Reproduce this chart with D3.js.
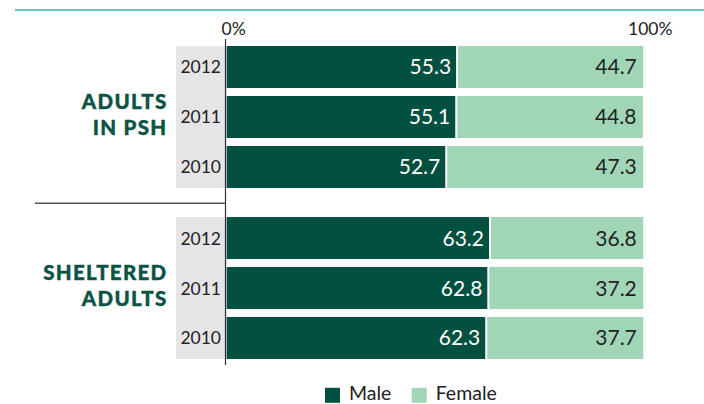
<!DOCTYPE html>
<html>
<head>
<meta charset="utf-8">
<script src="https://cdn.jsdelivr.net/npm/d3@7"></script>
<style>
  html, body { margin: 0; padding: 0; background: #fff; }
  svg { display: block; }
  text { font-family: Lato, "Open Sans", sans-serif; }
</style>
</head>
<body>
<svg id="chart" width="704" height="404"></svg>
<script>
// Gender split of adults, by population group and year (percent)
const groups = ["ADULTS|IN PSH", "SHELTERED|ADULTS"];
const years = ["2012", "2011", "2010"];
const maleValues = [
  [55.3, 55.1, 52.7],
  [63.2, 62.8, 62.3]
];
const femaleValues = [
  [44.7, 44.8, 47.3],
  [36.8, 37.2, 37.7]
];
const tickValues = [0, 100];
const tickLabels = ["0%", "100%"];
const seriesNames = ["Male", "Female"];

const colors = { male: "#02503f", female: "#a0d6b6", band: "#e5e5e7", title: "#0b5345", rule: "#6cc5b5" };

const svg = d3.select("#chart");

const x = d3.scaleLinear().domain([0, 100]).range([226.7, 643.3]);
const yGroup = d3.scaleBand().domain(groups).range([46, 359]).paddingInner(0.17).paddingOuter(0);
const yYear = d3.scaleBand().domain(years).range([0, yGroup.bandwidth()]).paddingInner(0.16).paddingOuter(0);

// Top rule
svg.append("line")
  .attr("x1", 15).attr("x2", 704).attr("y1", 10).attr("y2", 10)
  .attr("stroke", colors.rule).attr("stroke-width", 2.2);

// Percent axis on top
const axis = svg.append("g")
  .attr("transform", "translate(0,37.5)")
  .call(d3.axisTop(x).tickValues(tickValues).tickSize(0).tickFormat((d, i) => tickLabels[i]));
axis.select(".domain").remove();
axis.selectAll("text")
  .attr("dx", 6.5).attr("dy", 0)
  .attr("font-size", 17.5).attr("fill", "#222")
  .style("font-family", "Lato, 'Open Sans', sans-serif");

// Divider between the two groups
svg.append("line")
  .attr("x1", 35).attr("x2", 226).attr("y1", 203.3).attr("y2", 203.3)
  .attr("stroke", "#555").attr("stroke-width", 1.5);

groups.forEach((g, gi) => {
  const gy = yGroup(g);
  const grp = svg.append("g").attr("transform", `translate(0,${gy})`);

  // Grey band behind the year labels
  grp.append("rect")
    .attr("x", 176).attr("y", 0)
    .attr("width", x(0) - 176).attr("height", yGroup.bandwidth())
    .attr("fill", colors.band);

  const rows = years.map((yr, i) => ({ year: yr, male: maleValues[gi][i], female: femaleValues[gi][i] }));

  const row = grp.selectAll("g.row").data(rows).join("g")
    .attr("class", "row")
    .attr("transform", d => `translate(0,${yYear(d.year)})`);

  row.append("rect")
    .attr("x", x(0))
    .attr("y", 0)
    .attr("width", d => x(d.male) - x(0) - 1)
    .attr("height", yYear.bandwidth())
    .attr("fill", colors.male);

  row.append("rect")
    .attr("x", d => x(d.male) + 1)
    .attr("y", 0)
    .attr("width", d => x(d.male + d.female) - x(d.male) - 1)
    .attr("height", yYear.bandwidth())
    .attr("fill", colors.female);

  row.append("text")
    .attr("x", d => x(d.male) - 6)
    .attr("y", yYear.bandwidth() / 2 + 7.5)
    .attr("text-anchor", "end")
    .attr("font-size", 21)
    .attr("fill", "#fff")
    .text(d => d.male.toFixed(1));

  row.append("text")
    .attr("x", d => x(d.male + d.female) - 6.5)
    .attr("y", yYear.bandwidth() / 2 + 7.5)
    .attr("text-anchor", "end")
    .attr("font-size", 21)
    .attr("fill", "#222")
    .text(d => d.female.toFixed(1));

  row.append("text")
    .attr("x", 221)
    .attr("y", yYear.bandwidth() / 2 + 6.5)
    .attr("text-anchor", "end")
    .attr("font-size", 17.5)
    .attr("fill", "#222")
    .text(d => d.year);

  // Group title, two lines
  const lines = g.split("|");
  const title = grp.append("text")
    .attr("text-anchor", "end")
    .attr("font-size", 20.5)
    .attr("font-weight", 900)
    .attr("letter-spacing", 1.3)
    .attr("fill", colors.title)
    .attr("stroke", colors.title)
    .attr("stroke-width", 0.4);
  lines.forEach((t, li) => {
    title.append("tspan")
      .attr("x", 167.5)
      .attr("y", yGroup.bandwidth() / 2 + 5 + (li - 0.5) * 26.5)
      .text(t);
  });
});

// Vertical axis line
svg.append("line")
  .attr("x1", 225.5).attr("x2", 225.5).attr("y1", 39).attr("y2", 365)
  .attr("stroke", "#333").attr("stroke-width", 1.2);

// Legend
const legendItems = [
  { name: seriesNames[0], color: colors.male, x: 325 },
  { name: seriesNames[1], color: colors.female, x: 411.7 }
];
const legend = svg.append("g");
legendItems.forEach(it => {
  legend.append("rect")
    .attr("x", it.x).attr("y", 387.8).attr("width", 15).attr("height", 15)
    .attr("fill", it.color);
  legend.append("text")
    .attr("x", it.x + 24).attr("y", 400)
    .attr("font-size", 19.5)
    .attr("fill", "#222")
    .text(it.name);
});
</script>
</body>
</html>
